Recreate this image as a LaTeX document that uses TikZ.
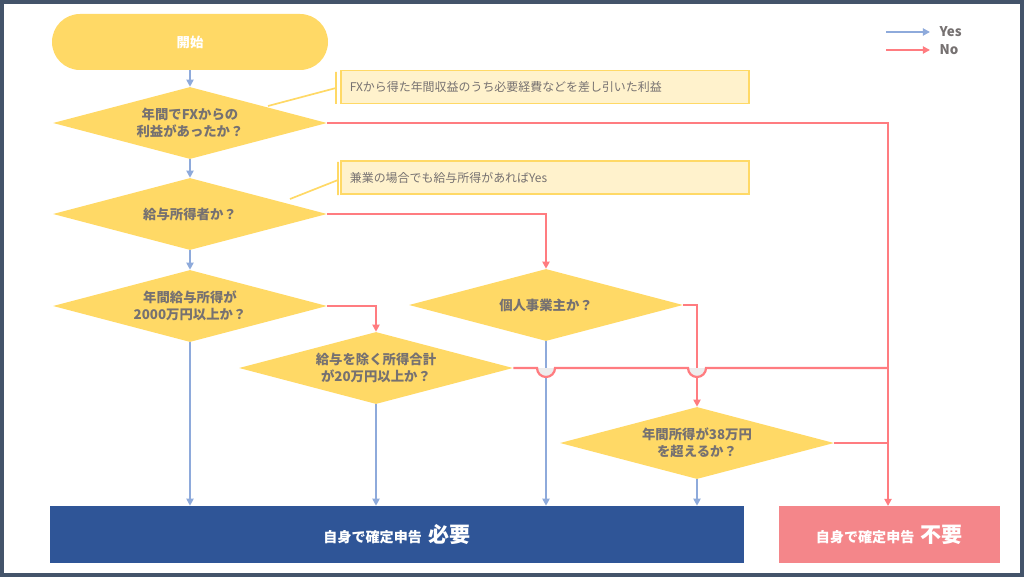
\documentclass[tikz,border=0pt]{standalone}
\usepackage{fontspec}
\setmainfont{Noto Sans CJK JP}
\usetikzlibrary{arrows.meta,positioning,calc,shapes.geometric}
\definecolor{navy}{HTML}{2F5597}
\definecolor{frame}{HTML}{44546A}
\definecolor{qyellow}{HTML}{FFD966}
\definecolor{note}{HTML}{FFF2CC}
\definecolor{yesblue}{HTML}{8EAADB}
\definecolor{nored}{HTML}{FF7C80}
\definecolor{salmon}{HTML}{F4868A}
\definecolor{txt}{HTML}{767171}

\tikzset{
  question/.style={shape=diamond,fill=qyellow,aspect=3.8,minimum width=274*0.025cm,minimum height=72*0.025cm,inner sep=0pt,align=center,text=txt,font=\bfseries\fontsize{9.5}{12}\selectfont},
  notebox/.style={draw=qyellow,line width=1.2pt,fill=note,minimum width=408*0.025cm,minimum height=33*0.025cm,text=txt,font=\fontsize{8.5}{10}\selectfont,anchor=west,text width=390*0.025cm},
  yes/.style={yesblue,line width=1.6pt,-{Triangle[length=5pt,width=5pt]}},
  no/.style={nored,line width=1.6pt,-{Triangle[length=5pt,width=5pt]}},
  noline/.style={nored,line width=1.6pt},
  result/.style={minimum height=57*0.025cm,text=white,font=\bfseries\fontsize{10}{12}\selectfont}
}

\begin{document}
\begin{tikzpicture}[x=0.025cm,y=-0.025cm]
    \useasboundingbox (0,0) rectangle (1024,577);
    \fill[white] (0,0) rectangle (1024,577);
    \draw[frame,line width=3pt] (1.5,1.5) rectangle (1022.5,575.5);

    % start and questions
    \node [fill=qyellow,rounded corners=28*0.025cm,minimum width=276*0.025cm,minimum height=56*0.025cm,text=white,font=\bfseries\fontsize{9.5}{12}\selectfont] (start) at (190,42) {開始};
    \node [question] (q1) at (190,123) {年間でFXからの\\利益があったか？};
    \node [question] (q2) at (190,214) {給与所得者か？};
    \node [question] (q3) at (190,306) {年間給与所得が\\2000万円以上か？};
    \node [question] (q4) at (546,305) {個人事業主か？};
    \node [question] (q5) at (376,368) {給与を除く所得合計\\が20万円以上か？};
    \node [question] (q6) at (697,443) {年間所得が38万円\\を超えるか？};

    % results
    \node [result,fill=navy,minimum width=694*0.025cm] (need) at (397,534.5) {自身で確定申告\ \ {\fontsize{15}{16}\selectfont 必要}};
    \node [result,fill=salmon,minimum width=221*0.025cm] (noneed) at (889.5,534.5) {自身で確定申告\ \ {\fontsize{15}{16}\selectfont 不要}};

    % notes
    \node [notebox] (n1) at (340,87) {FXから得た年間収益のうち必要経費などを差し引いた利益};
    \node [notebox] (n2) at (340,177.5) {兼業の場合でも給与所得があればYes};
    \draw[qyellow,line width=1.2pt] (336,72) -- (336,104) (336,88) -- (268,106);
    \draw[qyellow,line width=1.2pt] (338,162) -- (338,195) (338,180) -- (290,199);

    % legend
    \coordinate (ly) at (886,32);
    \coordinate (ln) at (886,50);
    \draw[yes] (ly) -- ++(44,0) node[right=6pt,text=txt,font=\bfseries\fontsize{9.5}{10}\selectfont,inner sep=0pt] (lyt) {Yes};
    \draw[no] (ln) -- ++(44,0) node[right=6pt,text=txt,font=\bfseries\fontsize{9.5}{10}\selectfont,inner sep=0pt] (lnt) {No};

    % yes
    \draw[yes] (start) -- (q1);
    \draw[yes] (q1) -- (q2);
    \draw[yes] (q2) -- (q3);
    \draw[yes] (q3) -- (q3 |- need.north);
    \draw[yes] (q5) -- (q5 |- need.north);
    \draw[yes] (q4) -- (q4 |- need.north);
    \draw[yes] (q6) -- (q6 |- need.north);

    % no
    \draw[no] (q1.east) -- (888,123) -- (888,506);
    \draw[no] (q2.east) -| (q4.north);
    \draw[no] (q3.east) -| (q5.north);
    \draw[no] (q4.east) -| (q6.north);
    \draw[noline] (q6.east) -- (888,443);
    \fill[black!7] (537,368) arc[start angle=180,end angle=0,radius=9] -- cycle;
    \fill[black!7] (688,368) arc[start angle=180,end angle=0,radius=9] -- cycle;
    \draw[noline] (q5.east) -- (537,368) arc[start angle=180,end angle=0,radius=9]
        -- (688,368) arc[start angle=180,end angle=0,radius=9] -- (888,368);
\end{tikzpicture}
\end{document}
